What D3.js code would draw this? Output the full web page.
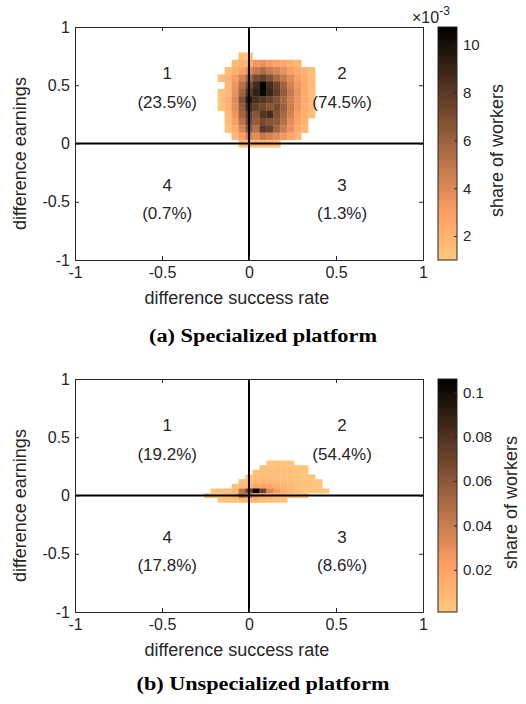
<!DOCTYPE html>
<html>
<head>
<meta charset="utf-8">
<script src="https://cdn.jsdelivr.net/npm/d3@7"></script>
<style>
  body { margin: 0; background: #fff; }
  svg { display: block; }
  text { font-family: "Liberation Sans", Arial, sans-serif; fill: #262626; }
</style>
</head>
<body>
<svg id="chart"></svg>
<script>
// ---- data ----
const axisTicks = [-1, -0.5, 0, 0.5, 1];
const quadNames = ["1", "2", "3", "4"];

// (a) specialized platform, share of workers in units of 1e-3
const specCols = [-0.16, -0.12, -0.08, -0.04, 0, 0.04, 0.08, 0.12, 0.16, 0.20, 0.24, 0.28, 0.32, 0.36];
const specRows = [0.75, 0.6875, 0.625, 0.5625, 0.5, 0.4375, 0.375, 0.3125, 0.25, 0.1875, 0.125, 0.0625, 0];
const specShare = [
  [0, 0, 0, 1.5, 1.4, 0, 0, 0, 0, 0, 0, 0, 0, 0],
  [0, 0, 1.6, 2.0, 2.4, 3.4, 3.6, 3.2, 2.8, 2.6, 2.2, 1.8, 0, 0],
  [0, 1.5, 2.2, 2.8, 4.0, 4.8, 5.4, 4.7, 4.2, 3.6, 3.0, 2.5, 2.0, 1.5],
  [1.4, 2.0, 3.0, 4.2, 5.8, 7.2, 7.6, 6.8, 5.6, 4.8, 3.8, 3.0, 2.3, 1.7],
  [0, 1.8, 3.4, 5.2, 7.2, 8.6, 10.7, 8.6, 7.4, 5.8, 4.4, 3.3, 2.5, 1.7],
  [1.3, 1.7, 3.6, 5.8, 8.2, 9.2, 10.5, 9.0, 7.8, 6.2, 4.8, 3.6, 2.5, 1.6],
  [1.3, 2.2, 4.0, 6.8, 9.6, 8.6, 8.2, 7.6, 6.8, 5.6, 4.4, 3.4, 2.4, 1.6],
  [1.2, 2.0, 3.8, 6.2, 8.6, 7.6, 7.2, 6.6, 7.2, 6.0, 4.6, 3.3, 2.3, 1.5],
  [0, 1.7, 3.4, 5.8, 7.6, 6.6, 8.2, 8.6, 6.8, 5.6, 4.3, 3.0, 2.2, 1.5],
  [0, 1.5, 3.0, 5.0, 7.2, 6.2, 7.2, 6.8, 6.4, 5.2, 3.8, 2.8, 2.0, 0],
  [0, 1.3, 2.4, 4.2, 6.6, 5.2, 8.0, 7.6, 5.8, 4.6, 3.5, 2.5, 1.7, 0],
  [0, 0, 1.8, 3.0, 4.6, 3.8, 4.8, 4.4, 3.9, 3.3, 2.6, 1.9, 0, 0],
  [0, 0, 0, 1.5, 1.8, 1.7, 1.8, 1.6, 1.4, 0, 0, 0, 0, 0]
];
const specRange = [1.0, 10.75];
const specBarTicks = [2, 4, 6, 8, 10];
const specPct = ["23.5%", "74.5%", "1.3%", "0.7%"];

// (b) unspecialized platform, share of workers
const unspCols = [-0.24, -0.20, -0.16, -0.12, -0.08, -0.04, 0, 0.04, 0.08, 0.12, 0.16, 0.20, 0.24, 0.28, 0.32, 0.36, 0.40, 0.44];
const unspRows = [0.28, 0.24, 0.20, 0.16, 0.12, 0.08, 0.04, 0, -0.04];
const unspShare = [
  [0, 0, 0, 0, 0, 0, 0, 0, 0, .004, .004, .004, .003, 0, 0, 0, 0, 0],
  [0, 0, 0, 0, 0, 0, 0, 0, .004, .005, .005, .005, .004, .003, .003, 0, 0, 0],
  [0, 0, 0, 0, 0, 0, 0, .005, .006, .006, .006, .005, .005, .004, .003, 0, 0, 0],
  [0, 0, 0, 0, 0, 0, .004, .007, .008, .008, .007, .006, .005, .004, .003, .003, 0, 0],
  [0, 0, 0, 0, 0, .004, .007, .010, .012, .011, .009, .007, .006, .005, .004, .003, .003, 0],
  [0, 0, 0, 0, .004, .007, .012, .020, .022, .018, .014, .010, .008, .006, .004, .003, .003, 0],
  [0, .003, .004, .006, .010, .045, .072, .106, .070, .035, .025, .016, .010, .007, .005, .004, .003, .003],
  [.003, .003, .004, .006, .012, .050, .040, .025, .018, .013, .010, .007, .005, .004, .003, 0, 0, 0],
  [0, 0, .003, .004, .006, .010, .012, .010, .008, .006, .004, .003, 0, 0, 0, 0, 0, 0]
];
const unspRange = [0.001, 0.106];
const unspBarTicks = [0.02, 0.04, 0.06, 0.08, 0.1];
const unspPct = ["19.2%", "54.4%", "8.6%", "17.8%"];

// ---- layout ----
const W = 526, H = 704;
const plotX0 = 75, plotX1 = 423, plotH = 233;
const cbX = 438, cbW = 19;
const axisColor = "#262626";

const svg = d3.select("#chart").attr("width", W).attr("height", H);

// reversed MATLAB copper
const copperR = (t) => {
  const v = 1 - t;
  return d3.rgb(Math.min(1, 1.25 * v) * 255, 0.7812 * v * 255, 0.4975 * v * 255).toString();
};

const fmt = (d) => String(d);

const drawPanel = (cfg) => {
  const top = cfg.top;
  const x = d3.scaleLinear().domain([-1, 1]).range([plotX0, plotX1]);
  const y = d3.scaleLinear().domain([-1, 1]).range([top + plotH, top]);
  const tNorm = d3.scaleLinear().domain(cfg.range).range([0, 1]).clamp(true);
  const g = svg.append("g");

  // heatmap cells
  const dx = Math.abs(cfg.cols[1] - cfg.cols[0]);
  const dy = Math.abs(cfg.rows[0] - cfg.rows[1]);
  const cells = [];
  cfg.values.forEach((row, i) => {
    row.forEach((v, j) => {
      if (v > 0) cells.push({ cx: cfg.cols[j], cy: cfg.rows[i], v: v });
    });
  });
  g.append("g")
    .selectAll("rect")
    .data(cells)
    .join("rect")
    .attr("x", (d) => x(d.cx - dx / 2))
    .attr("y", (d) => y(d.cy + dy / 2))
    .attr("width", (d) => x(d.cx + dx / 2) - x(d.cx - dx / 2) + 0.3)
    .attr("height", (d) => y(d.cy - dy / 2) - y(d.cy + dy / 2) + 0.3)
    .attr("fill", (d) => copperR(tNorm(d.v)));

  // quadrant labels
  const qx = [-0.47, 0.535, 0.535, -0.47];
  const qy = [0.6, 0.6, -0.36, -0.36];
  cfg.pct.forEach((p, k) => {
    g.append("text")
      .attr("x", x(qx[k]))
      .attr("y", y(qy[k]))
      .attr("text-anchor", "middle")
      .attr("dominant-baseline", "central")
      .style("font-size", "17px")
      .text(quadNames[k]);
    g.append("text")
      .attr("x", x(qx[k]))
      .attr("y", y(qy[k] - 0.245))
      .attr("text-anchor", "middle")
      .attr("dominant-baseline", "central")
      .style("font-size", "17px")
      .text("(" + p + ")");
  });

  // zero lines
  g.append("line")
    .attr("x1", x(-1)).attr("x2", x(1))
    .attr("y1", y(0)).attr("y2", y(0))
    .attr("stroke", "#000").attr("stroke-width", 2);
  g.append("line")
    .attr("x1", x(0)).attr("x2", x(0))
    .attr("y1", y(-1)).attr("y2", y(1))
    .attr("stroke", "#000").attr("stroke-width", 2);

  // axes (box with inward ticks)
  const styleAxis = (sel) => {
    sel.select(".domain").attr("stroke", axisColor);
    sel.selectAll(".tick line").attr("stroke", axisColor);
    sel.selectAll(".tick text").attr("fill", axisColor).style("font-size", "16px")
      .style("font-family", '"Liberation Sans", Arial, sans-serif');
  };
  g.append("g")
    .attr("transform", `translate(0,${y(-1)})`)
    .call(d3.axisBottom(x).tickValues(axisTicks).tickFormat(fmt).tickSizeInner(-4).tickSizeOuter(0).tickPadding(7))
    .call(styleAxis);
  g.append("g")
    .attr("transform", `translate(${x(-1)},0)`)
    .call(d3.axisLeft(y).tickValues(axisTicks).tickFormat(fmt).tickSizeInner(-4).tickSizeOuter(0).tickPadding(5))
    .call(styleAxis);
  g.append("g")
    .attr("transform", `translate(0,${y(1)})`)
    .call(d3.axisTop(x).tickValues(axisTicks).tickFormat("").tickSizeInner(-4).tickSizeOuter(0))
    .call(styleAxis);
  g.append("g")
    .attr("transform", `translate(${x(1)},0)`)
    .call(d3.axisRight(y).tickValues(axisTicks).tickFormat("").tickSizeInner(-4).tickSizeOuter(0))
    .call(styleAxis);

  // axis labels
  g.append("text")
    .attr("x", 237)
    .attr("y", y(-1) + 38)
    .attr("text-anchor", "middle")
    .attr("dominant-baseline", "central")
    .style("font-size", "18px")
    .text("difference success rate");
  g.append("text")
    .attr("transform", `translate(20,${top + plotH / 2 + 10}) rotate(-90)`)
    .attr("text-anchor", "middle")
    .attr("dominant-baseline", "central")
    .style("font-size", "18px")
    .text("difference earnings");

  // colorbar
  const gradId = "grad" + cfg.id;
  const grad = svg.append("defs").append("linearGradient")
    .attr("id", gradId)
    .attr("x1", 0).attr("y1", 1).attr("x2", 0).attr("y2", 0);
  d3.range(0, 1.0001, 0.02).forEach((t) => {
    grad.append("stop").attr("offset", t).attr("stop-color", copperR(t));
  });
  const cy = d3.scaleLinear().domain(cfg.range).range([top + plotH, top]);
  g.append("rect")
    .attr("x", cbX).attr("y", top)
    .attr("width", cbW).attr("height", plotH)
    .attr("fill", `url(#${gradId})`);
  const cbAxis = g.append("g")
    .attr("transform", `translate(${cbX + cbW},0)`)
    .call(d3.axisRight(cy).tickValues(cfg.barTicks).tickFormat(fmt).tickSizeInner(-3).tickSizeOuter(0).tickPadding(6));
  cbAxis.select(".domain").remove();
  cbAxis.selectAll(".tick line").attr("stroke", axisColor);
  cbAxis.selectAll(".tick text").attr("fill", axisColor).style("font-size", "15px")
    .style("font-family", '"Liberation Sans", Arial, sans-serif');
  g.append("rect")
    .attr("x", cbX).attr("y", top)
    .attr("width", cbW).attr("height", plotH)
    .attr("fill", "none").attr("stroke", axisColor).attr("stroke-width", 1);
  g.append("text")
    .attr("transform", `translate(${cfg.cbLabelX},${top + plotH / 2 + 7}) rotate(-90)`)
    .attr("text-anchor", "middle")
    .attr("dominant-baseline", "central")
    .style("font-size", "18px")
    .text("share of workers");

  if (cfg.exponent) {
    const e = g.append("text")
      .attr("x", 412)
      .attr("y", top - 4)
      .style("font-size", "16px");
    e.append("tspan").text("×10");
    e.append("tspan").attr("dy", -8).style("font-size", "12px").text(cfg.exponent);
  }

  // caption
  svg.append("text")
    .attr("x", 263)
    .attr("y", cfg.captionY)
    .attr("text-anchor", "middle")
    .attr("textLength", cfg.captionW)
    .attr("lengthAdjust", "spacingAndGlyphs")
    .style("font-family", '"Liberation Serif", "Times New Roman", serif')
    .style("font-weight", "bold")
    .style("font-size", "18px")
    .style("fill", "#000")
    .text(cfg.caption);
};

drawPanel({
  id: "a", top: 27, cols: specCols, rows: specRows, values: specShare,
  range: specRange, barTicks: specBarTicks, pct: specPct, exponent: "-3",
  cbLabelX: 497,
  caption: "(a) Specialized platform", captionY: 342, captionW: 228
});
drawPanel({
  id: "b", top: 379, cols: unspCols, rows: unspRows, values: unspShare,
  range: unspRange, barTicks: unspBarTicks, pct: unspPct, exponent: null,
  cbLabelX: 511,
  caption: "(b) Unspecialized platform", captionY: 690, captionW: 253
});
</script>
</body>
</html>
